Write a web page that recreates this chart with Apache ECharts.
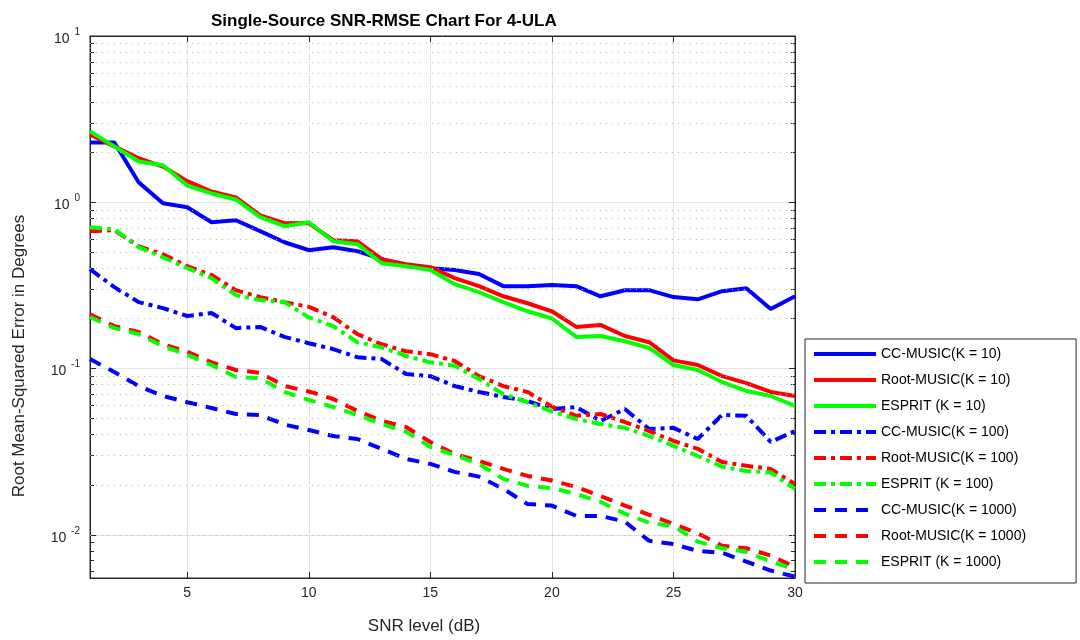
<!DOCTYPE html>
<html>
<head>
<meta charset="utf-8">
<script src="https://cdn.jsdelivr.net/npm/echarts@6/dist/echarts.min.js"></script>
<style>
  html, body { margin: 0; padding: 0; background: #fff; }
  #chart { width: 1080px; height: 640px; }
</style>
</head>
<body>
<div id="chart"></div>
<script>
// SNR levels (dB)
const snr = [1,2,3,4,5,6,7,8,9,10,11,12,13,14,15,16,17,18,19,20,21,22,23,24,25,26,27,28,29,30];

// RMSE (degrees) per method and snapshot count K
const ccMusic10 = [2.29,2.29,1.32,0.986,0.933,0.758,0.78,0.67,0.575,0.515,0.537,0.508,0.455,0.413,0.401,0.391,0.37,0.313,0.313,0.318,0.313,0.272,0.296,0.296,0.269,0.261,0.292,0.304,0.228,0.272];
const rootMusic10 = [2.56,2.17,1.84,1.64,1.34,1.16,1.07,0.835,0.748,0.75,0.591,0.583,0.455,0.424,0.407,0.35,0.313,0.272,0.247,0.221,0.178,0.183,0.157,0.144,0.112,0.105,0.090,0.0818,0.0723,0.0684];
const esprit10 = [2.67,2.17,1.76,1.67,1.26,1.13,1.04,0.813,0.718,0.758,0.583,0.56,0.43,0.413,0.391,0.322,0.288,0.251,0.221,0.2,0.155,0.157,0.146,0.133,0.105,0.098,0.083,0.0733,0.0684,0.0596];
const ccMusic100 = [0.396,0.309,0.251,0.231,0.207,0.216,0.175,0.178,0.155,0.142,0.131,0.117,0.114,0.0927,0.090,0.0785,0.0723,0.0675,0.0638,0.0571,0.0587,0.0484,0.0571,0.0433,0.044,0.0377,0.0526,0.052,0.0362,0.0421];
const rootMusic100 = [0.67,0.679,0.544,0.487,0.413,0.365,0.296,0.269,0.251,0.235,0.204,0.161,0.14,0.127,0.122,0.111,0.090,0.0785,0.0723,0.059,0.052,0.0533,0.0477,0.0421,0.0367,0.0329,0.0274,0.026,0.0249,0.0202];
const esprit100 = [0.708,0.688,0.537,0.467,0.401,0.35,0.276,0.258,0.251,0.203,0.18,0.144,0.134,0.119,0.109,0.104,0.0865,0.0702,0.0627,0.0552,0.0497,0.0464,0.044,0.0393,0.0343,0.0298,0.0257,0.0242,0.0237,0.0189];
const ccMusic1000 = [0.114,0.0953,0.0785,0.0684,0.0627,0.0579,0.0533,0.0526,0.046,0.0427,0.0393,0.0377,0.0329,0.0286,0.0267,0.0239,0.0224,0.0189,0.0153,0.015,0.013,0.013,0.012,0.0092,0.0088,0.008,0.0078,0.0069,0.0061,0.0056];
const rootMusic1000 = [0.212,0.18,0.166,0.14,0.126,0.109,0.098,0.0942,0.0785,0.0728,0.0656,0.0556,0.0484,0.0445,0.0362,0.0306,0.0278,0.0249,0.0226,0.0212,0.0194,0.0171,0.015,0.0132,0.0116,0.0102,0.0086,0.0083,0.0075,0.0064];
const esprit1000 = [0.204,0.175,0.161,0.136,0.121,0.105,0.089,0.0876,0.0723,0.0647,0.0587,0.0526,0.0464,0.0416,0.0338,0.0301,0.0267,0.0217,0.0197,0.0191,0.0176,0.0158,0.0134,0.0118,0.0113,0.0091,0.0083,0.0079,0.0069,0.0062];

// Axis ticks
const xTicks = [5, 10, 15, 20, 25, 30];
const yMajor = [0.01, 0.1, 1, 10];
const yMinor = [0.006,0.007,0.008,0.009,0.02,0.03,0.04,0.05,0.06,0.07,0.08,0.09,0.2,0.3,0.4,0.5,0.6,0.7,0.8,0.9,2,3,4,5,6,7,8,9];
const yMin = 0.0055, yMax = 10;

const FONT = '"Liberation Sans", Arial, Helvetica, sans-serif';
const DASHDOT = [12, 5, 4, 5];
const DASHED = [12, 9];

function mk(name, data, color, type) {
  return {
    name: name,
    type: 'line',
    data: snr.map((s, i) => [s, data[i]]),
    symbol: 'none',
    lineStyle: { color: color, width: 4, type: type },
    itemStyle: { color: color },
    emphasis: { disabled: true },
    z: 3
  };
}

const series = [
  mk('CC-MUSIC(K = 10)', ccMusic10, '#0000ff', 'solid'),
  mk('Root-MUSIC(K = 10)', rootMusic10, '#ff0000', 'solid'),
  mk('ESPRIT (K = 10)', esprit10, '#00ff00', 'solid'),
  mk('CC-MUSIC(K = 100)', ccMusic100, '#0000ff', DASHDOT),
  mk('Root-MUSIC(K = 100)', rootMusic100, '#ff0000', DASHDOT),
  mk('ESPRIT (K = 100)', esprit100, '#00ff00', DASHDOT),
  mk('CC-MUSIC(K = 1000)', ccMusic1000, '#0000ff', DASHED),
  mk('Root-MUSIC(K = 1000)', rootMusic1000, '#ff0000', DASHED),
  mk('ESPRIT (K = 1000)', esprit1000, '#00ff00', DASHED)
];

// dotted minor grid lines of the log axis
series.push({
  name: 'minor-grid',
  type: 'line',
  data: [],
  silent: true,
  z: 1,
  markLine: {
    silent: true,
    symbol: 'none',
    label: { show: false },
    lineStyle: { color: '#b5b5b5', width: 1, type: [1, 5] },
    emphasis: { disabled: true },
    data: yMinor.map(v => ({ yAxis: v }))
  }
});

const axisColor = '#262626';
const gridColor = '#e3e3e3';

const baseY = {
  type: 'log', logBase: 10, min: yMin, max: yMax,
  gridIndex: 0
};

const option = {
  backgroundColor: '#fff',
  animation: false,
  title: {
    text: 'Single-Source SNR-RMSE Chart For 4-ULA',
    left: 206, top: 8,
    textStyle: { fontFamily: FONT, fontSize: 17, fontWeight: 'bold', color: '#000' }
  },
  grid: {
    left: 90, top: 36, right: 285, bottom: 62,
    show: true, borderColor: axisColor, borderWidth: 1, backgroundColor: '#fff'
  },
  legend: {
    orient: 'vertical',
    left: 805, top: 339,
    padding: [8, 50, 14, 7],
    itemWidth: 62, itemHeight: 14, itemGap: 12,
    borderColor: axisColor, borderWidth: 1, backgroundColor: '#fff',
    itemStyle: { opacity: 0 },
    lineStyle: { width: 4 },
    textStyle: { fontFamily: FONT, fontSize: 14, color: '#000' },
    data: series.slice(0, 9).map(s => s.name)
  },
  xAxis: [
    {
      type: 'value', min: 1, max: 30, position: 'bottom',
      name: 'SNR level (dB)', nameLocation: 'middle', nameGap: 40,
      nameTextStyle: { fontFamily: FONT, fontSize: 17, color: '#262626', padding: [0, 37, 0, 0] },
      axisLine: { show: true, onZero: false, lineStyle: { color: axisColor } },
      axisTick: { show: true, inside: true, length: 6, customValues: xTicks, lineStyle: { color: axisColor } },
      axisLabel: { customValues: xTicks, fontFamily: FONT, fontSize: 14, color: '#262626', margin: 8 },
      splitLine: { show: true, lineStyle: { color: gridColor, width: 1 } }
    },
    {
      type: 'value', min: 1, max: 30, position: 'top',
      axisLine: { show: true, onZero: false, lineStyle: { color: axisColor } },
      axisTick: { show: true, inside: true, length: 6, customValues: xTicks, lineStyle: { color: axisColor } },
      axisLabel: { show: false },
      splitLine: { show: false }
    }
  ],
  yAxis: [
    Object.assign({}, baseY, {
      position: 'left',
      name: 'Root Mean-Squared Error in Degrees', nameLocation: 'middle', nameGap: 62,
      nameTextStyle: { fontFamily: FONT, fontSize: 17, color: '#262626', padding: [0, 98, 0, 0] },
      axisLine: { show: true, onZero: false, lineStyle: { color: axisColor } },
      axisTick: { show: true, inside: true, length: 6, customValues: yMajor, lineStyle: { color: axisColor } },
      axisLabel: {
        customValues: yMajor, margin: 10,
        formatter: v => '{b|10}{s| ' + Math.round(Math.log10(v)) + '}',
        rich: {
          b: { fontFamily: FONT, fontSize: 14, color: '#262626', padding: [6, 0, 0, 0] },
          s: { fontFamily: FONT, fontSize: 10, color: '#262626', padding: [0, 0, 8, 2] }
        }
      },
      splitLine: { show: true, lineStyle: { color: gridColor, width: 1 } }
    }),
    Object.assign({}, baseY, {
      position: 'left',
      axisLine: { show: false },
      axisTick: { show: true, inside: true, length: 4, customValues: yMinor, lineStyle: { color: axisColor } },
      axisLabel: { show: false },
      splitLine: { show: false }
    }),
    Object.assign({}, baseY, {
      position: 'right',
      axisLine: { show: true, onZero: false, lineStyle: { color: axisColor } },
      axisTick: { show: true, inside: true, length: 6, customValues: yMajor, lineStyle: { color: axisColor } },
      axisLabel: { show: false },
      splitLine: { show: false }
    }),
    Object.assign({}, baseY, {
      position: 'right',
      axisLine: { show: false },
      axisTick: { show: true, inside: true, length: 4, customValues: yMinor, lineStyle: { color: axisColor } },
      axisLabel: { show: false },
      splitLine: { show: false }
    })
  ],
  series: series
};

const chart = echarts.init(document.getElementById('chart'), null, { renderer: 'canvas' });
chart.setOption(option);
</script>
</body>
</html>
